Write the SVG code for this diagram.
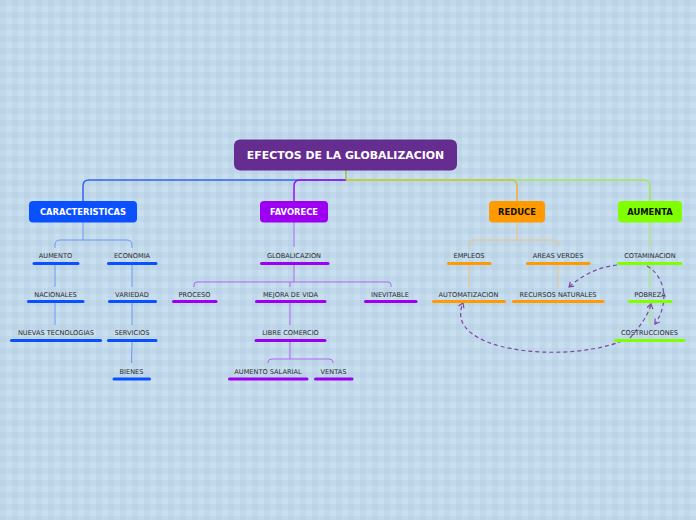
<svg xmlns="http://www.w3.org/2000/svg" width="696" height="520" viewBox="0 0 696 520">
<defs>
<pattern id="bg" width="12" height="12" patternUnits="userSpaceOnUse">
<rect width="12" height="12" fill="#c8dfef"/>
<rect x="0" y="0" width="6" height="12" fill="#9fbfd8" opacity="0.2"/>
<rect x="0" y="0" width="12" height="6" fill="#9fbfd8" opacity="0.2"/>
</pattern>
<marker id="arr" markerWidth="8" markerHeight="8" refX="5" refY="3.5" orient="auto" markerUnits="userSpaceOnUse">
<path d="M0.5,0.5 L5,3.5 L0.5,6.5" fill="none" stroke="#7b4aa8" stroke-width="1.2"/>
</marker>
<style>
.lbl{font-family:"DejaVu Sans",Verdana,sans-serif;font-size:6.6px;fill:#2a2a2a;text-anchor:middle}
.hd{font-family:"DejaVu Sans",Verdana,sans-serif;font-weight:bold;font-size:8.4px;text-anchor:middle}
.bar{stroke-width:3;stroke-linecap:round;fill:none}
.b{stroke:#0a50ff}.p{stroke:#9d00f0}.o{stroke:#ff9a00}.g{stroke:#80ff00}
.c{fill:none;stroke-width:1}
.rel{fill:none;stroke:#7b4aa8;stroke-width:1.2;stroke-dasharray:4 3;marker-end:url(#arr)}
</style>
</defs>
<rect width="696" height="520" fill="url(#bg)"/>

<g id="connectors">
<path d="M346 180 H89 Q83 180 83 186 V201" fill="none" stroke="#2f64f0" stroke-width="1.5"/>
<path d="M346 180 H300 Q294 180 294 186 V201" fill="none" stroke="#9a10ee" stroke-width="1.5"/>
<path d="M346 180 H644 Q650 180 650 186 V201" fill="none" stroke="#a2e85a" stroke-width="1.5"/>
<path d="M346 180 H511 Q517 180 517 186 V201" fill="none" stroke="#c2c83a" stroke-width="1.5"/>
<path d="M517 184 V201" fill="none" stroke="#f0b060" stroke-width="1.5"/>
<path d="M346 170 V180" fill="none" stroke="#a2b848" stroke-width="1.5"/>

<g class="c" stroke="#6a98f2">
<path d="M83 222 V240"/>
<path d="M55 248 V245 Q55 240 60 240 H127 Q132 240 132 245 V248"/>
<path d="M55 264 V287"/>
<path d="M132 264 V287"/>
<path d="M55 302 V325"/>
<path d="M132 302 V325"/>
<path d="M132 341 L131.5 363"/>
</g>
<g class="c" stroke="#b266f2">
<path d="M294 222 V247"/>
<path d="M294 264 V282"/>
<path d="M194 287 V285 Q194 282 197 282 H388 Q391 282 391 285 V287"/>
<path d="M290 282 V287"/>
<path d="M290 302 V325"/>
<path d="M290 341 V359"/>
<path d="M268 363 V362 Q268 359 272 359 H329 Q333 359 333 362 V363"/>
</g>
<g class="c" stroke="#f0c383">
<path d="M517 223 V240"/>
<path d="M469 247 V244 Q469 240 473 240 H554 Q558 240 558 244 V247"/>
<path d="M469 264 V287"/>
<path d="M558 264 V287"/>
</g>
<g class="c" stroke="#a8f060">
<path d="M650 223 V247"/>
<path d="M650 264 V287"/>
<path d="M650 303 V325"/>
</g>

<path class="rel" d="M617 265 Q590 268 569 287"/>
<path class="rel" d="M647 266 C665 276 670 302 655 324"/>
<path class="rel" d="M630 338 C640 326 648 316 651 304"/>
<path class="rel" d="M622 341 C565 364 442 352 463 303"/>
</g>

<g id="root">
<rect x="234" y="139.5" width="223" height="31" rx="6" fill="#662d91"/>
<text x="345.5" y="159" font-family="'DejaVu Sans',Verdana,sans-serif" font-weight="bold" font-size="10.9" fill="#fff" text-anchor="middle">EFECTOS DE LA GLOBALIZACION</text>
</g>

<g id="caracteristicas">
<rect x="29" y="201" width="108" height="21.5" rx="4" fill="#0a50ff"/>
<text class="hd" x="83" y="215" fill="#fff">CARACTERISTICAS</text>
</g>
<g id="favorece">
<rect x="260" y="201" width="68" height="21.5" rx="4" fill="#9d00f0"/>
<text class="hd" x="294" y="215" fill="#fff">FAVORECE</text>
</g>
<g id="reduce">
<rect x="489" y="201" width="56" height="21.5" rx="4" fill="#ff9a00"/>
<text class="hd" x="517" y="215" fill="#111">REDUCE</text>
</g>
<g id="aumenta">
<rect x="618" y="201" width="64" height="21.5" rx="4" fill="#80ff00"/>
<text class="hd" x="650" y="215" fill="#111">AUMENTA</text>
</g>

<g id="aumento"><text class="lbl" x="55.5" y="257.5">AUMENTO</text><path class="bar b" d="M34 263.5 H78"/></g>
<g id="economia"><text class="lbl" x="132" y="257.5">ECONOMIA</text><path class="bar b" d="M108.5 263.5 H156"/></g>
<g id="nacionales"><text class="lbl" x="55.5" y="296.5">NACIONALES</text><path class="bar b" d="M28.5 301.5 H83"/></g>
<g id="variedad"><text class="lbl" x="132" y="296.5">VARIEDAD</text><path class="bar b" d="M109.5 301.5 H155.5"/></g>
<g id="nuevas"><text class="lbl" x="56" y="334.5">NUEVAS TECNOLOGIAS</text><path class="bar b" d="M11.5 340.5 H100.5"/></g>
<g id="servicios"><text class="lbl" x="132" y="334.5">SERVICIOS</text><path class="bar b" d="M108.5 340.5 H156"/></g>
<g id="bienes"><text class="lbl" x="131.5" y="373.5">BIENES</text><path class="bar b" d="M114 379 H149.5"/></g>

<g id="globalicazion"><text class="lbl" x="294" y="257.5">GLOBALICAZION</text><path class="bar p" d="M261.5 263.5 H328"/></g>
<g id="proceso"><text class="lbl" x="194.5" y="296.5">PROCESO</text><path class="bar p" d="M173.5 301.5 H216"/></g>
<g id="mejora"><text class="lbl" x="290.5" y="296.5">MEJORA DE VIDA</text><path class="bar p" d="M256.5 301.5 H325"/></g>
<g id="inevitable"><text class="lbl" x="390" y="296.5">INEVITABLE</text><path class="bar p" d="M365.5 301.5 H416"/></g>
<g id="libre"><text class="lbl" x="290.5" y="334.5">LIBRE COMERCIO</text><path class="bar p" d="M256 340.5 H325"/></g>
<g id="salarial"><text class="lbl" x="268" y="373.5">AUMENTO SALARIAL</text><path class="bar p" d="M229.5 379 H307"/></g>
<g id="ventas"><text class="lbl" x="333.5" y="373.5">VENTAS</text><path class="bar p" d="M315.5 379 H352"/></g>

<g id="empleos"><text class="lbl" x="469" y="257.5">EMPLEOS</text><path class="bar o" d="M448.5 263.5 H490"/></g>
<g id="areas"><text class="lbl" x="558" y="257.5">AREAS VERDES</text><path class="bar o" d="M527.5 263.5 H589"/></g>
<g id="automatizacion"><text class="lbl" x="468.5" y="296.5">AUTOMATIZACION</text><path class="bar o" d="M433.5 301.5 H504.5"/></g>
<g id="recursos"><text class="lbl" x="558" y="296.5">RECURSOS NATURALES</text><path class="bar o" d="M513.5 301.5 H603"/></g>

<g id="cotaminacion"><text class="lbl" x="650" y="257.5">COTAMINACION</text><path class="bar g" d="M618.5 263.5 H681"/></g>
<g id="pobreza"><text class="lbl" x="650" y="296.5">POBREZA</text><path class="bar g" d="M629.5 301.5 H671"/></g>
<g id="costrucciones"><text class="lbl" x="649.5" y="334.5">COSTRUCCIONES</text><path class="bar g" d="M615.5 340.5 H684"/></g>
</svg>
